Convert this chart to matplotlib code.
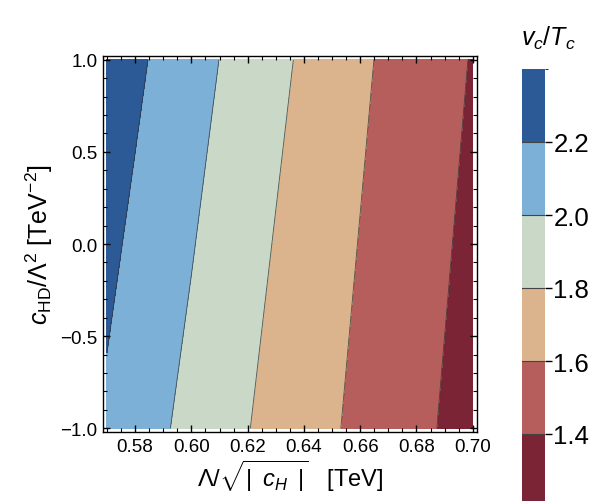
import numpy as np
import matplotlib
matplotlib.use("Agg")
import matplotlib.pyplot as plt
from matplotlib.colors import ListedColormap, BoundaryNorm
from matplotlib.ticker import MultipleLocator, FuncFormatter

plt.rcParams['font.family'] = ['Liberation Sans', 'DejaVu Sans']
plt.rcParams['mathtext.fontset'] = 'custom'
plt.rcParams['mathtext.rm'] = 'Liberation Sans'
plt.rcParams['mathtext.it'] = 'Liberation Sans:italic'

# grid: v_c/T_c at the bottom (y=-1) and top (y=+1) edges
x_nodes = [0.57, 0.58, 0.60, 0.62, 0.64, 0.66, 0.68, 0.70]
y_nodes = [-1.0, 1.0]
v_bottom = [2.170, 2.091, 1.946, 1.806, 1.680, 1.558, 1.442, 1.326]
v_top = [2.317, 2.237, 2.076, 1.921, 1.772, 1.630, 1.507, 1.390]

levels = [1.2, 1.4, 1.6, 1.8, 2.0, 2.2, 2.4]
band_colors = ['#7a2436', '#b55e5c', '#dbb48e', '#c9d8c7', '#7db0d6', '#2b5a97']
cbar_ticks = [1.4, 1.6, 1.8, 2.0, 2.2]

X, Y = np.meshgrid(x_nodes, y_nodes)
Z = np.array([v_bottom, v_top])

cmap = ListedColormap(band_colors)
norm = BoundaryNorm(levels, cmap.N)


def fmt(decimals):
    return FuncFormatter(lambda v, pos: f'{v:.{decimals}f}'.replace('-', '\u2212'))


fig = plt.figure(figsize=(6.02, 5.02), dpi=100)
ax = fig.add_axes([103 / 602, 1 - 433 / 502, 374 / 602, 376 / 502])

cf = ax.contourf(X, Y, Z, levels=levels, cmap=cmap, norm=norm)
ax.contour(X, Y, Z, levels=levels[1:-1], colors='#333333', linewidths=0.6, alpha=0.8)

ax.set_xlim(0.5686, 0.7015)
ax.set_ylim(-1.02, 1.02)
ax.xaxis.set_major_locator(MultipleLocator(0.02))
ax.xaxis.set_minor_locator(MultipleLocator(0.005))
ax.yaxis.set_major_locator(MultipleLocator(0.5))
ax.yaxis.set_minor_locator(MultipleLocator(0.1))
ax.xaxis.set_major_formatter(fmt(2))
ax.yaxis.set_major_formatter(fmt(1))
ax.tick_params(which='both', direction='in', top=True, right=True, labelsize=13.5, pad=4)
ax.tick_params(which='major', length=5, width=1)
ax.tick_params(which='minor', length=3, width=0.8)
for s in ax.spines.values():
    s.set_linewidth(1.0)

ax.set_xlabel(r'$\mathit{\Lambda}/\sqrt{|\;\;c_H\;\;|}$   [TeV]', fontsize=17, labelpad=2)
ax.set_ylabel(r'$c_{\mathrm{HD}}/\mathit{\Lambda}^2$ [TeV$^{-2}$]', fontsize=18, labelpad=4)

# colour bar
cax = fig.add_axes([522 / 602, -6 / 502, 23 / 602, 438 / 502])
cb = fig.colorbar(cf, cax=cax, ticks=cbar_ticks)
cb.outline.set_visible(False)
for lv in levels[1:-1]:
    cax.axhline(lv, color='#444444', lw=0.8)
cax.tick_params(labelsize=18.5, length=5, width=1, direction='out', pad=1)
cax.yaxis.set_major_formatter(fmt(1))
fig.text(548 / 602, 1 - 38 / 502, r'$v_c/T_c$', fontsize=18, ha='center', va='center')

fig.savefig('out.png', dpi=100)
